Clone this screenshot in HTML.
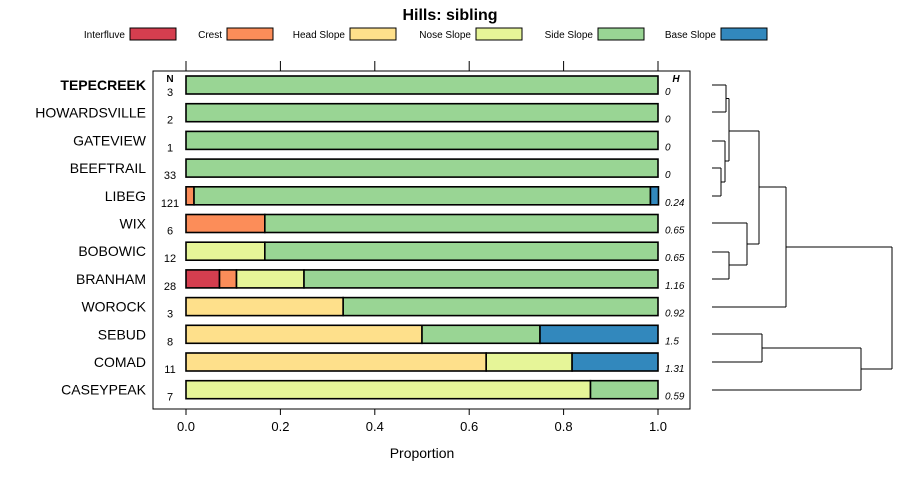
<!DOCTYPE html>
<html><head><meta charset="utf-8"><style>
body{margin:0;background:#fff}
svg{display:block;font-family:"Liberation Sans",sans-serif}
</style></head><body>
<svg id="c" width="900" height="480"></svg>
<script>
const categories=["TEPECREEK","HOWARDSVILLE","GATEVIEW","BEEFTRAIL","LIBEG","WIX","BOBOWIC","BRANHAM","WOROCK","SEBUD","COMAD","CASEYPEAK"];
const nValues=[3,2,1,33,121,6,12,28,3,8,11,7];
const hValues=["0","0","0","0","0.24","0.65","0.65","1.16","0.92","1.5","1.31","0.59"];
const seriesNames=["Interfluve","Crest","Head Slope","Nose Slope","Side Slope","Base Slope"];
const colors=["#D53E4F","#FC8D59","#FEE08B","#E6F598","#99D594","#3288BD"];
const interfluve=[0,0,0,0,0,0,0,0.071,0,0,0,0];
const crest=[0,0,0,0,0.017,0.167,0,0.036,0,0,0,0];
const headSlope=[0,0,0,0,0,0,0,0,0.333,0.5,0.636,0];
const noseSlope=[0,0,0,0,0,0,0.167,0.143,0,0,0.182,0.857];
const sideSlope=[1,1,1,1,0.967,0.833,0.833,0.75,0.667,0.25,0,0.143];
const baseSlope=[0,0,0,0,0.017,0,0,0,0,0.25,0.182,0];
const ticks=[0,0.2,0.4,0.6,0.8,1.0];
const tickLabels=["0.0","0.2","0.4","0.6","0.8","1.0"];
const series=[interfluve,crest,headSlope,noseSlope,sideSlope,baseSlope];

const svg=document.getElementById('c');
const NS="http://www.w3.org/2000/svg";
function el(t,a,txt){const e=document.createElementNS(NS,t);for(const k in a)e.setAttribute(k,a[k]);if(txt!=null)e.textContent=txt;svg.appendChild(e);return e;}
const x=v=>186+v*472;
const y=i=>85+i*27.7;

let e=el('text',{x:450,y:20,'text-anchor':'middle','font-size':16,'font-weight':'bold'},'Hills: sibling');



const legX=[130,227,350,476,598,721];
seriesNames.forEach((n,k)=>{
  let t=el('text',{x:legX[k]-5,y:38,'text-anchor':'end','font-size':10},n);
  
  
  let r=el('rect',{x:legX[k],y:28,width:46,height:12,fill:colors[k],stroke:'#000','stroke-width':1});
  
  
});

e=el('rect',{x:153,y:71,width:537,height:338,fill:'none',stroke:'#000','stroke-width':1});



ticks.forEach((v,k)=>{
  let l=el('line',{x1:x(v),x2:x(v),y1:61,y2:71,stroke:'#000'});
  
  
  l=el('line',{x1:x(v),x2:x(v),y1:409,y2:415,stroke:'#000'});
  
  
  let t=el('text',{x:x(v),y:431,'text-anchor':'middle','font-size':13},tickLabels[k]);
  
  
});
e=el('text',{x:422,y:458,'text-anchor':'middle','font-size':14},'Proportion');



e=el('text',{x:170,y:82,'text-anchor':'middle','font-size':10,'font-weight':'bold'},'N');


e=el('text',{x:676,y:82,'text-anchor':'middle','font-size':10,'font-weight':'bold','font-style':'italic'},'H');



categories.forEach((c,i)=>{
  let t=el('text',{x:146,y:y(i)+5,'text-anchor':'end','font-size':14,'font-weight':i==0?'bold':'normal'},c);
  
  
  t=el('text',{x:170,y:y(i)+11,'text-anchor':'middle','font-size':11},nValues[i]);
  
  
  t=el('text',{x:665,y:y(i)+10,'font-size':10,'font-style':'italic'},hValues[i]);
  
  
  let cum=0;
  series.forEach((s,k)=>{
    const v=s[i];
    if(v>0){
      let r=el('rect',{x:x(cum),y:y(i)-9,width:x(cum+v)-x(cum),height:18,fill:colors[k],stroke:'#000','stroke-width':1.6});
      
      
    }
    cum+=v;
  });
});

// dendrogram
const segs=[
[712,85,726,85],[712,112,726,112],[726,85,726,112],
[712,168,721,168],[712,196,721,196],[721,168,721,196],
[712,141,725,141],[721,182,725,182],[725,141,725,182],
[726,98.5,729,98.5],[725,161,729,161],[729,98.5,729,161],
[712,252,729,252],[712,279,729,279],[729,252,729,279],
[712,223,747,223],[729,265,747,265],[747,223,747,265],
[729,131,759,131],[747,244,759,244],[759,131,759,244],
[759,187,786,187],[712,307,786,307],[786,187,786,307],
[712,334,762,334],[712,362,762,362],[762,334,762,362],
[762,348,861,348],[712,390,861,390],[861,348,861,390],
[786,247,892,247],[861,369,892,369],[892,247,892,369]];
segs.forEach(s=>{
  let l=el('line',{x1:s[0],y1:s[1],x2:s[2],y2:s[3],stroke:'#000','stroke-width':1});
  
  
});
</script>
</body></html>
